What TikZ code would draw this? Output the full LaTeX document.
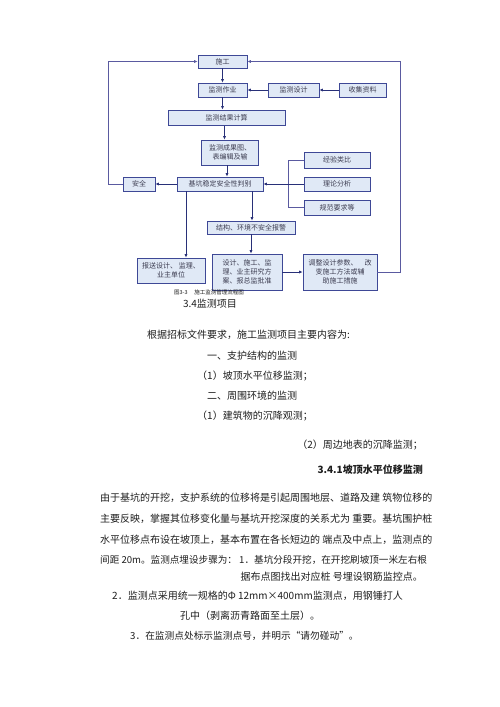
\documentclass[tikz,border=0pt]{standalone}
\usepackage{fontspec}
\setmainfont{Noto Sans CJK SC}
\usetikzlibrary{arrows.meta}
\definecolor{boxfill}{RGB}{224,233,246}
\definecolor{boxdraw}{RGB}{62,72,150}
\definecolor{linecol}{RGB}{40,48,120}
\definecolor{fbcol}{RGB}{90,90,160}
\definecolor{boxtext}{RGB}{60,60,80}
\definecolor{bodytext}{RGB}{30,30,30}
\begin{document}
\begin{tikzpicture}[x=1pt,y=-1pt,
  box/.style={draw=boxdraw, fill=boxfill, line width=0.7pt, inner sep=0pt,
    font=\fontsize{7}{9}\selectfont, text=boxtext, align=center},
  arr/.style={-{Latex[length=3.5pt,width=3.2pt]}, draw=linecol, line width=0.8pt},
  fb/.style={-{Latex[length=3.5pt,width=3.2pt]}, draw=fbcol, line width=0.8pt},
  brk/.style={draw=fbcol, line width=0.7pt},
  body/.style={inner sep=0pt, text=bodytext, font=\fontsize{10}{12}\selectfont},
  para/.style={inner sep=0pt, text=bodytext, font=\fontsize{10}{12}\selectfont, anchor=west}]
\useasboundingbox[fill=white] (0,0) rectangle (500,707);

% flowchart boxes
\node[box, minimum width=49pt, minimum height=13pt] (sg) at (222.5,61.5) {施工};
\node[box, minimum width=49pt, minimum height=14pt] (zy) at (222.5,90) {监测作业};
\node[box, minimum width=51pt, minimum height=14pt] (sj) at (293.5,90) {监测设计};
\node[box, minimum width=47pt, minimum height=14pt] (sz) at (362.5,90) {收集资料};
\node[box, minimum width=117pt, minimum height=15pt, line width=1pt] (js) at (226.5,117.5) {监测结果计算};
\node[box, minimum width=57pt, minimum height=25pt] (cg) at (230,152.5) {监测成果图、\\表编辑及输};
\node[box, minimum width=32pt, minimum height=14pt] (aq) at (139,184) {安全};
\node[box, minimum width=86pt, minimum height=14pt] (pb) at (220,184) {基坑稳定安全性判别};
\node[box, minimum width=66pt, minimum height=16pt] (jy) at (337,160) {经验类比};
\node[box, minimum width=66pt, minimum height=14pt] (ll) at (337,184) {理论分析};
\node[box, minimum width=66pt, minimum height=15pt] (gf) at (337,207.5) {规范要求等};
\node[box, minimum width=88pt, minimum height=13pt] (bj) at (251,227.5) {结构、环境不安全报警};
\node[box, minimum width=68pt, minimum height=25pt] (bs) at (171,270.5) {报送设计、\ 监理、\\业主单位};
\node[box, minimum width=70pt, minimum height=36pt] (ss) at (247,272) {设计、施工、监\\理、业主研究方\\案、报总监批准};
\node[box, minimum width=74pt, minimum height=36pt] (tz) at (340,272) {调整设计参数、\quad 改\\变施工方法或辅\\助施工措施};

% connectors
\draw[arr] (sg) -- (zy);
\draw[arr] (zy.south) -- (zy.south |- js.north);
\draw[arr] (sj) -- (zy);
\draw[arr] (sz) -- (sj);
\draw[arr] ([xshift=-2pt]js.south) -- ([xshift=-2pt]js.south |- cg.north);
\draw[arr] ([xshift=-3pt]cg.south) -- ([xshift=-3pt]cg.south |- pb.north);
\draw[arr] (pb) -- (aq);
\coordinate (lc) at (108,184);
\draw[fb] (aq.west) -- (lc) |- (sg.west);
\coordinate (br) at (288,184);
\draw[brk] (jy.west) -- (jy.west -| br) -- (gf.west -| br) -- (gf.west);
\draw[arr] (ll.west) -- (pb.east);
\draw[arr] ([xshift=-34pt]pb.south) -- ([xshift=-34pt]pb.south |- bs.north);
\draw[arr] ([xshift=32pt]pb.south) -- ([xshift=32pt]pb.south |- bj.north);
\draw[arr] (bj.south) -- (bj.south |- ss.north);
\draw[arr] (ss) -- (tz);
\coordinate (rc) at (400,272);
\draw[fb] (tz.east) -- (rc) |- (sg.east);

% caption and headings
\node[inner sep=0pt, text=bodytext, font=\fontsize{5.5}{6}\selectfont] (cap) at (209,292.5) {图3-3\quad\ 施工监测管理流程图};
\node[body] (h34) at (210,304) {3.4监测项目};

\node[body, anchor=west] (t1) at (147,335) {根据招标文件要求，施工监测项目主要内容为:};
\node[body, anchor=west] (t2) at (207,356) {一、支护结构的监测};
\node[body, anchor=west] (t3) at (197,376) {（1）坡顶水平位移监测；};
\node[body, anchor=west] (t4) at (207,396) {二、周围环境的监测};
\node[body, anchor=west] (t5) at (197,416) {（1）建筑物的沉降观测；};
\node[body, anchor=east] (t6) at (423,445) {（2）周边地表的沉降监测；};
\node[body, anchor=east, font=\fontsize{10}{12}\selectfont\bfseries] (t7) at (423,470) {3.4.1坡顶水平位移监测};

\node[para] (p1) at (100,498) {由于基坑的开挖，支护系统的位移将是引起周围地层、道路及建 筑物位移的};
\node[para] (p2) at (100,519) {主要反映，掌握其位移变化量与基坑开挖深度的关系尤为 重要。基坑围护桩};
\node[para] (p3) at (100,540) {水平位移点布设在坡顶上，基本布置在各长短边的 端点及中点上，监测点的};
\node[para, font=\fontsize{9.6}{12}\selectfont] (p4) at (100,560) {间距 20m。监测点埋设步骤为： 1．基坑分段开挖，在开挖刷坡顶一米左右根};
\node[para, anchor=east] (p5) at (423,577) {据布点图找出对应桩 号埋设钢筋监控点。};
\node[para] (p6) at (112,596) {2．监测点采用统一规格的Φ 12mm×400mm监测点，用钢锤打人};
\node[para] (p7) at (180,616) {孔中（剥离沥青路面至土层）。};
\node[para, font=\fontsize{9.7}{12}\selectfont] (p8) at (130,636) {3．在监测点处标示监测点号，并明示“请勿碰动”。};
\end{tikzpicture}
\end{document}
